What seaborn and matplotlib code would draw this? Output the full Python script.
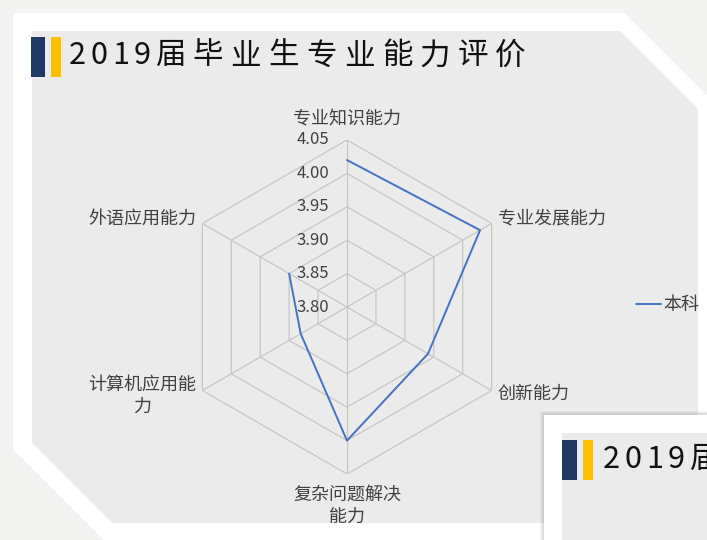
import numpy as np
import seaborn as sns
import matplotlib.pyplot as plt
import matplotlib.transforms as mtransforms
from matplotlib.patches import Polygon, Rectangle

# 数据
categories = ["专业知识能力", "专业发展能力", "创新能力", "复杂问题解决\n能力", "计算机应用能\n力", "外语应用能力"]
values = [4.02, 4.03, 3.94, 4.00, 3.88, 3.90]
series_name = "本科"
r_levels = [3.80, 3.85, 3.90, 3.95, 4.00, 4.05]
r_labels = ["3.80", "3.85", "3.90", "3.95", "4.00", "4.05"]
title = "2019届毕业生专业能力评价"
title2 = "2019届"

sns.set_theme(style="white")
plt.rcParams["font.family"] = ["Noto Sans CJK SC", "DejaVu Sans"]

W, H = 707, 540
fig = plt.figure(figsize=(W / 100, H / 100), dpi=100)
fig.patch.set_facecolor("#f3f3f1")

PAGE = "#ffffff"
PANEL = "#ebebeb"
NAVY = "#1f3864"
GOLD = "#ffc000"

# 背景卡片（像素坐标）
bg = fig.add_axes([0, 0, 1, 1], zorder=0)
bg.set_xlim(0, W)
bg.set_ylim(H, 0)
bg.axis("off")

card = [(13, 13), (625, 13), (707, 95), (707, 560), (123, 560), (13, 450)]
for k, a in enumerate([0.05, 0.04, 0.03]):
    sh = [(x + 2 + k, y + 2 + k) for x, y in card]
    bg.add_patch(Polygon(sh, closed=True, facecolor="#000000", alpha=a, lw=0))
bg.add_patch(Polygon(card, closed=True, facecolor=PAGE, lw=0))
panel = [(32, 31), (620, 31), (698, 109), (698, 523), (112, 523), (32, 443)]
bg.add_patch(Polygon(panel, closed=True, facecolor=PANEL, lw=0))

bg.add_patch(Rectangle((31, 37), 14, 40, facecolor=NAVY, lw=0))
bg.add_patch(Rectangle((51, 37), 10, 40, facecolor=GOLD, lw=0))
x = 69
for ch in title:
    bg.text(x, 56, ch, fontsize=22, color="#111111", ha="left", va="center")
    x += 21.5 if ch.isdigit() else 37.8

# 雷达图
cx, cy, R = 347, 307, 167
ax = fig.add_axes([(cx - R) / W, (H - cy - R) / H, 2 * R / W, 2 * R / H],
                  projection="polar", zorder=1)
ax.set_facecolor("none")
ax.set_theta_offset(np.pi / 2)
ax.set_theta_direction(-1)
n = len(categories)
theta = np.linspace(0, 2 * np.pi, n, endpoint=False)
theta_c = np.append(theta, theta[0])

grid_c = "#c6c6c6"
for lv in r_levels[1:]:
    ax.plot(theta_c, [lv] * (n + 1), color=grid_c, lw=0.9, zorder=1)
for t in theta:
    ax.plot([t, t], [r_levels[0], r_levels[-1]], color=grid_c, lw=0.9, zorder=1)

sns.lineplot(x=theta_c, y=np.append(values, values[0]), ax=ax, sort=False,
             color="#4472c4", lw=1.4, label=series_name, zorder=3)

ax.set_ylim(r_levels[0], r_levels[-1])
ax.grid(False)
ax.spines["polar"].set_visible(False)
ax.set_xticks([])
ax.set_yticks([])

off = mtransforms.offset_copy(ax.transData, fig=fig, x=-18, y=0, units="dots")
for lv, lab in zip(r_levels, r_labels):
    ax.text(0, lv, lab, transform=off, ha="right", va="center",
            fontsize=12, color="#404040", zorder=4)

lab_pos = [(0, 21, "center"), (6, 5, "left"), (6, -3, "left"),
           (0, -32, "center"), (-6, -5, "right"), (-6, 5, "right")]
for t, name, (dx, dy, ha) in zip(theta, categories, lab_pos):
    tr = mtransforms.offset_copy(ax.transData, fig=fig, x=dx, y=dy, units="dots")
    ax.text(t, r_levels[-1], name, transform=tr, ha=ha, va="center",
            multialignment="center", linespacing=1.3, fontsize=13, color="#404040")

ax.legend(loc="center left", bbox_to_anchor=(636 / W, 1 - 305 / H),
          bbox_transform=fig.transFigure, frameon=False, fontsize=13,
          handlelength=1.4, handletextpad=0.1, borderaxespad=0, borderpad=0,
          labelcolor="#404040")

# 右下角第二张卡片
fg = fig.add_axes([0, 0, 1, 1], zorder=2)
fg.set_xlim(0, W)
fg.set_ylim(H, 0)
fg.axis("off")
fg.patch.set_alpha(0)
card2 = [(544, 415), (720, 415), (720, 560), (544, 560)]
for k, a in enumerate([0.06, 0.04, 0.03]):
    sh = [(x - 2 - k, y - 2 - k) for x, y in card2]
    fg.add_patch(Polygon(sh, closed=True, facecolor="#000000", alpha=a, lw=0))
fg.add_patch(Polygon(card2, closed=True, facecolor=PAGE, lw=0))
fg.add_patch(Rectangle((562, 433), 160, 120, facecolor=PANEL, lw=0))
fg.add_patch(Rectangle((562, 440), 15, 40, facecolor=NAVY, lw=0))
fg.add_patch(Rectangle((583, 440), 10, 40, facecolor=GOLD, lw=0))
x = 603
for ch in title2:
    fg.text(x, 459, ch, fontsize=22, color="#111111", ha="left", va="center")
    x += 21.5 if ch.isdigit() else 37.8

fig.savefig("out.png", dpi=100, facecolor=fig.get_facecolor())
